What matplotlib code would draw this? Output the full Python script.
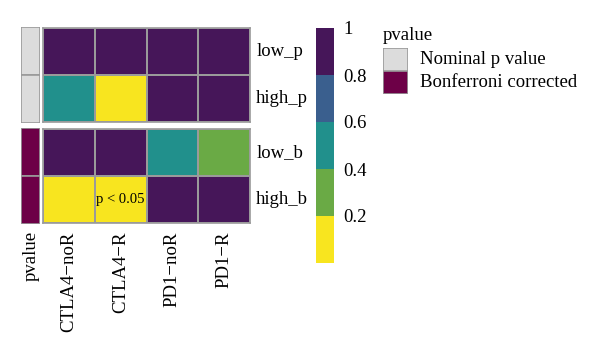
import numpy as np
import matplotlib.pyplot as plt
from matplotlib.colors import ListedColormap, BoundaryNorm
from matplotlib.patches import Rectangle

plt.rcParams['font.family'] = ['Liberation Serif', 'DejaVu Serif']

# data
colonnes = ['CTLA4\u2212noR', 'CTLA4\u2212R', 'PD1\u2212noR', 'PD1\u2212R']
lignes_nominal = ['low_p', 'high_p']
lignes_bonf = ['low_b', 'high_b']
valeurs_nominal = [[0.9, 0.9, 0.9, 0.9],
                   [0.5, 0.1, 0.9, 0.9]]
valeurs_bonf = [[0.9, 0.9, 0.5, 0.3],
                [0.1, 0.1, 0.9, 0.9]]
annot_labels = ['Nominal p value', 'Bonferroni corrected']
annot_couleurs = ['#DCDCDC', '#6D0047']
cbar_ticks = [0.2, 0.4, 0.6, 0.8, 1.0]
cbar_labels = ['0.2', '0.4', '0.6', '0.8', '1']

couleurs = ['#F8E51F', '#6AAA45', '#21908C', '#3A5F8E', '#461659']
cmap = ListedColormap(couleurs)
norm = BoundaryNorm([0, 0.2, 0.4, 0.6, 0.8, 1.0], cmap.N)
bord = '#9A9A9A'
fs = 13.5

W, H = 600, 351
fig = plt.figure(figsize=(6, 3.51), dpi=100)


def boite(x0, y0, x1, y1):
    return fig.add_axes([x0 / W, 1 - y1 / H, (x1 - x0) / W, (y1 - y0) / H])


def dessiner_bloc(ax, valeurs, lignes):
    v = np.array(valeurs)
    ax.pcolormesh(v, cmap=cmap, norm=norm, edgecolors=bord, linewidth=1.2)
    ax.set_xlim(0, v.shape[1])
    ax.set_ylim(v.shape[0], 0)
    ax.set_xticks([])
    ax.set_yticks([])
    for s in ax.spines.values():
        s.set_color(bord)
        s.set_linewidth(1.2)
    for i, nom in enumerate(lignes):
        ax.text(1.03, 1 - (i + 0.5) / len(lignes), nom, transform=ax.transAxes,
                ha='left', va='center', fontsize=fs)


def dessiner_annot(ax, couleur, n):
    for i in range(n):
        ax.add_patch(Rectangle((0, i), 1, 1, facecolor=couleur, edgecolor=bord, linewidth=1.2))
    ax.set_xlim(0, 1)
    ax.set_ylim(n, 0)
    ax.axis('off')


ax_haut = boite(43, 28, 250, 122)
dessiner_bloc(ax_haut, valeurs_nominal, lignes_nominal)
ax_bas = boite(43, 129, 250, 223)
dessiner_bloc(ax_bas, valeurs_bonf, lignes_bonf)
ax_bas.text(1.5 / 4, 0.25, 'p < 0.05', transform=ax_bas.transAxes,
            ha='center', va='center', fontsize=10.5)

dessiner_annot(boite(21, 27, 40, 123), annot_couleurs[0], 2)
dessiner_annot(boite(21, 128, 40, 224), annot_couleurs[1], 2)

# column labels
for j, nom in enumerate(colonnes):
    ax_bas.text((j + 0.5) / 4, -0.09, nom, transform=ax_bas.transAxes,
                rotation=90, ha='center', va='top', fontsize=fs)
fig.text(31 / W, 1 - 231 / H, 'pvalue', rotation=90, ha='center', va='top', fontsize=fs)

# colorbar
ax_cb = boite(316, 28, 334, 263)
grad = np.array([[0.1], [0.3], [0.5], [0.7], [0.9]])
ax_cb.pcolormesh([0, 1], [0, 0.2, 0.4, 0.6, 0.8, 1.0], grad, cmap=cmap, norm=norm)
ax_cb.set_xlim(0, 1)
ax_cb.set_ylim(0, 1)
ax_cb.set_xticks([])
ax_cb.yaxis.tick_right()
ax_cb.set_yticks(cbar_ticks)
ax_cb.set_yticklabels(cbar_labels, fontsize=fs)
ax_cb.tick_params(axis='y', length=0, pad=7)
for s in ax_cb.spines.values():
    s.set_visible(False)

# legend
fig.text(383 / W, 1 - 27 / H, 'pvalue', ha='left', va='top', fontsize=fs)
for k, (lab, c) in enumerate(zip(annot_labels, annot_couleurs)):
    y0 = 48 + k * 23
    ax_l = boite(383, y0, 408, y0 + 23)
    ax_l.add_patch(Rectangle((0, 0), 1, 1, facecolor=c, edgecolor=bord, linewidth=1.2))
    ax_l.set_xlim(0, 1)
    ax_l.set_ylim(0, 1)
    ax_l.axis('off')
    fig.text(420 / W, 1 - (y0 + 11.5) / H, lab, ha='left', va='center', fontsize=fs)

fig.savefig('out.png', dpi=100)
